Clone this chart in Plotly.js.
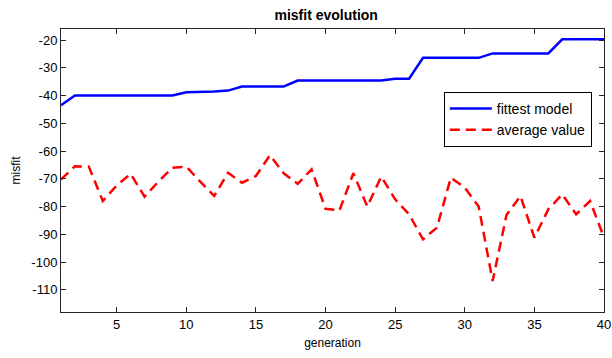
<!DOCTYPE html>
<html>
<head>
<meta charset="utf-8">
<script src="https://cdn.plot.ly/plotly-3.0.1.min.js"></script>
<style>html,body{margin:0;padding:0;background:#fff;}#chart{width:612px;height:358px;}</style>
</head>
<body>
<div id="chart"></div>
<script>
var generation = [];
for (var i = 1; i <= 40; i++) generation.push(i);

var fittestModel = [-43.5, -40, -40, -40, -40, -40, -40, -40, -40, -38.8,
  -38.7, -38.5, -38.2, -36.7, -36.7, -36.7, -36.7, -34.6, -34.6, -34.6,
  -34.6, -34.6, -34.6, -34.6, -33.9, -33.9, -26.4, -26.4, -26.4, -26.4,
  -26.4, -24.8, -24.8, -24.8, -24.8, -24.8, -19.7, -19.7, -19.7, -19.7];

var averageValue = [-70.2, -65.5, -65.6, -78.0, -72.4, -68.2, -76.4, -71.0, -66.0, -65.6,
  -71.0, -76.2, -67.8, -71.4, -69.0, -61.5, -68.0, -71.8, -66.6, -80.8,
  -81.4, -68.0, -80.0, -69.2, -77.4, -82.8, -91.8, -87.6, -69.6, -73.2,
  -80.0, -106.8, -83.0, -76.2, -91.2, -81.0, -75.6, -82.8, -78.0, -91.2];

var seriesNames = ['fittest model', 'average value'];
var titleText = 'misfit evolution';
var xLabel = 'generation';
var yLabel = 'misfit';
var xTicks = [5, 10, 15, 20, 25, 30, 35, 40];
var yTicks = [-110, -100, -90, -80, -70, -60, -50, -40, -30, -20];

var font = 'Liberation Sans, Arial, Helvetica, sans-serif';

var traces = [
  {x: generation, y: fittestModel, name: seriesNames[0], type: 'scatter', mode: 'lines',
   line: {color: '#0000ff', width: 2.5}},
  {x: generation, y: averageValue, name: seriesNames[1], type: 'scatter', mode: 'lines',
   line: {color: '#ff0000', width: 2.5, dash: '10px,6px'}}
];

var axisCommon = {
  showgrid: false, zeroline: false, showline: true, mirror: 'ticks',
  linecolor: '#262626', linewidth: 1, ticks: 'inside', ticklen: 5, tickwidth: 1,
  tickcolor: '#262626', tickfont: {family: font, size: 13, color: '#000'}
};

var layout = {
  width: 612, height: 358,
  margin: {l: 61, r: 8, t: 29, b: 46, pad: 0},
  paper_bgcolor: '#fff', plot_bgcolor: '#fff',
  font: {family: font, size: 12, color: '#000'},
  title: {text: '<b>' + titleText + '</b>', font: {family: font, size: 14, color: '#000'},
          x: 0.533, xanchor: 'center', y: 0.958, yanchor: 'middle'},
  xaxis: Object.assign({}, axisCommon, {
    range: [1, 40], tickvals: xTicks, ticktext: xTicks.map(String),
    title: {text: xLabel, font: {family: font, size: 12, color: '#000'}, standoff: 8}
  }),
  yaxis: Object.assign({}, axisCommon, {
    range: [-118, -16], tickvals: yTicks, ticktext: yTicks.map(String),
    title: {text: yLabel, font: {family: font, size: 12, color: '#000'}, standoff: 8}
  }),
  showlegend: true,
  legend: {x: 0.705, y: 0.778, xanchor: 'left', yanchor: 'top',
    bgcolor: '#fff', bordercolor: '#000', borderwidth: 1, itemwidth: 42,
    font: {family: font, size: 14, color: '#000'}, tracegroupgap: 0}
};

Plotly.newPlot('chart', traces, layout, {displayModeBar: false, staticPlot: true});
</script>
</body>
</html>
